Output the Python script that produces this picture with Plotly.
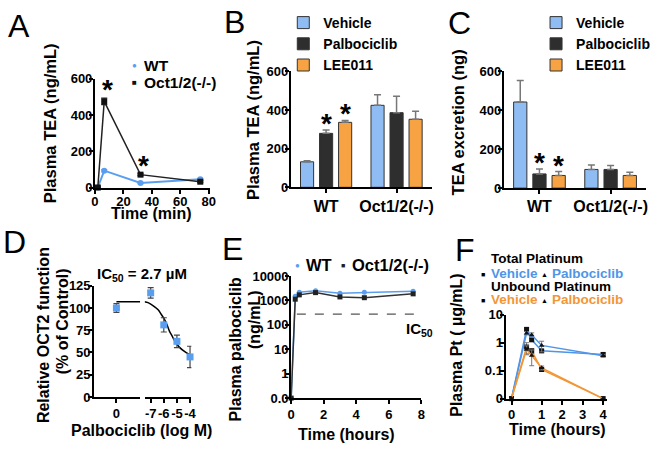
import math
import plotly.graph_objects as go

W, H = 664, 453
FONT = "Liberation Sans, Arial, Helvetica, sans-serif"

BLUE = "#5a9ef0"
BAR_BLUE = "#8fbcf3"
BAR_BLACK = "#2e2e2e"
BAR_ORANGE = "#f7a343"
F_BLUE = "#4f95e8"
F_ORANGE = "#f39636"

# ---------------- data ----------------
# Panel A: plasma TEA vs time
a_time = [2, 6.5, 32, 74]
a_wt = [0, 93, 25, 45]
a_wt_err = [1, 6, 4, 6]
a_ko = [0, 475, 71, 32]
a_ko_err = [1, 18, 5, 5]
a_sig = [False, True, True, False]
a_xticks = [0, 20, 40, 60, 80]
a_yticks = [0, 200, 400, 600]

# Panel B: plasma TEA by genotype / treatment
genotypes = ["WT", "Oct1/2(-/-)"]
b_vehicle = [132, 424]
b_vehicle_err = [5, 55]
b_palbo = [279, 386]
b_palbo_err = [17, 85]
b_lee = [336, 352]
b_lee_err = [10, 42]
b_sig_palbo = [True, False]
b_sig_lee = [True, False]

# Panel C: TEA excretion
c_vehicle = [443, 96]
c_vehicle_err = [111, 23]
c_palbo = [73, 96]
c_palbo_err = [25, 20]
c_lee = [65, 65]
c_lee_err = [20, 16]
c_sig_palbo = [True, False]
c_sig_lee = [True, False]
bar_yticks = [0, 200, 400, 600]

# Panel D: OCT2 inhibition
d_ctrl_x = [0]
d_ctrl_y = [100]
d_ctrl_err = [5]
d_logc = [-7, -6, -5, -4]
d_resp = [117, 81, 62.5, 45]
d_resp_err = [6, 8, 7, 12]
d_fit_ctrl_x = [0, 1.07]
d_fit_ctrl_y = [107, 107]
d_fit_x = [-7.46, -7.2, -6.8, -6.43, -6.2, -5.94, -5.75, -5.57, -5.38, -5.19, -4.82, -4.32, -3.95]
d_fit_y = [107, 106, 102.5, 98, 93, 87, 81, 74, 69, 63.5, 56, 50, 47]
d_yticks = [0, 25, 50, 75, 100, 125]

# Panel E: plasma palbociclib
e_time = [0, 0.25, 0.5, 1.5, 3, 4.5, 7.5]
e_wt = [0.1, 1500, 2200, 2500, 2000, 2150, 2400]
e_ko = [0.1, 1130, 1700, 2100, 1400, 1300, 1870]
e_ic50 = 275
e_ic50_span = [0.35, 7.6]
e_xticks = [0, 2, 4, 6, 8]
e_yticks = [0.1, 1, 10, 100, 1000, 10000]
e_yticktext = ["0.0", "1", "10", "100", "1000", "10000"]

# Panel F: plasma platinum
f_time = [0, 0.5, 0.67, 1, 4]
f_tot_veh = [0.01, 3.0, 1.27, 0.51, 0.38]
f_tot_veh_err = [0, 0.4, 0.15, 0.05, 0.05]
f_tot_pal = [0.01, 2.2, 1.9, 0.8, 0.34]
f_tot_pal_err = [0, 0.3, 0.35, 0.33, 0.04]
f_unb_veh = [0.01, 0.7, 0.51, 0.11, 0.01]
f_unb_veh_err = [0, 0.3, 0.1, 0.015, 0]
f_unb_pal = [0.01, 0.57, 0.35, 0.126, 0.01]
f_unb_pal_err = [0, 0.2, 0.2, 0.02, 0]
f_xticks = [0, 1, 2, 3, 4]
f_yticks = [0.01, 0.1, 1, 10]
f_yticktext = ["0", "0.1", "1", "10"]
F_EARLY = 1.47  # the 0-1 h segment of the time axis is stretched


def f_pos(t):
    return t * F_EARLY if t <= 1 else F_EARLY + (t - 1)


# ---------------- helpers ----------------
def xd(a, b):
    return [a / W, b / W]


def yd(top, bottom):
    return [1 - bottom / H, 1 - top / H]


def font(size, weight="bold", color="black"):
    return dict(family=FONT, size=size, weight=weight, color=color)


AX = dict(showline=True, linecolor="black", linewidth=2, ticks="outside", ticklen=4,
          tickwidth=2, tickcolor="black", showgrid=False, zeroline=False,
          tickfont=font(13), fixedrange=True, tickangle=0)
XA = dict(AX, ticklabelstandoff=-1)
YA = dict(AX, ticklabelstandoff=-6)

annotations = []


def ann(text, x, y, size=16, angle=0, xanchor="center", yanchor="middle", weight="bold", color="black"):
    annotations.append(dict(text=text, x=x / W, y=1 - y / H, xref="paper", yref="paper",
                            showarrow=False, textangle=angle, xanchor=xanchor, yanchor=yanchor,
                            font=font(size, weight, color)))


fig = go.Figure()

# ---------------- Panel A ----------------
fig.add_trace(go.Scatter(x=a_time, y=a_wt, mode="lines+markers", xaxis="x", yaxis="y",
                         line=dict(color=BLUE, width=2), marker=dict(color=BLUE, size=6, symbol="circle"),
                         error_y=dict(type="data", array=a_wt_err, color=BLUE, thickness=1.2, width=3),
                         showlegend=False, cliponaxis=False))
fig.add_trace(go.Scatter(x=a_time, y=a_ko, mode="lines+markers", xaxis="x", yaxis="y",
                         line=dict(color="#222", width=1.5), marker=dict(color="#111", size=6, symbol="square"),
                         error_y=dict(type="data", array=a_ko_err, color="#222", thickness=1.2, width=3),
                         showlegend=False, cliponaxis=False))
for t, v, e, s in zip(a_time, a_ko, a_ko_err, a_sig):
    if s:
        annotations.append(dict(text="*", x=t, y=v + e, xref="x", yref="y", showarrow=False,
                                xshift=3, yshift=-9, yanchor="bottom", font=font(28)))

# ---------------- Panels B and C (bars) ----------------
BARGAP, GROUPGAP = 0.19, 0.31


def add_bars(xa, ya, veh, veh_e, pal, pal_e, lee, lee_e, legend):
    specs = [("Vehicle", veh, veh_e, BAR_BLUE, "#777"),
             ("Palbociclib", pal, pal_e, BAR_BLACK, "#777"),
             ("LEE011", lee, lee_e, BAR_ORANGE, "#777")]
    for name, vals, errs, col, ecol in specs:
        fig.add_trace(go.Bar(x=genotypes, y=vals, name=name, xaxis=xa, yaxis=ya, legend=legend,
                             marker=dict(color=col, line=dict(color="#333", width=1)),
                             error_y=dict(type="data", array=errs, arrayminus=[0] * len(errs),
                                          symmetric=False, color=ecol, thickness=1.5, width=3.5)))


add_bars("x2", "y2", b_vehicle, b_vehicle_err, b_palbo, b_palbo_err, b_lee, b_lee_err, "legend")
add_bars("x3", "y3", c_vehicle, c_vehicle_err, c_palbo, c_palbo_err, c_lee, c_lee_err, "legend2")

B_DOM = (291.7, 435)
C_DOM = (508.3, 653)


def bar_stars(dom, xref, yref, vals, errs, sig, slot_index):
    cat_w = (dom[1] - dom[0]) / len(genotypes)
    slot = cat_w * (1 - BARGAP) / 3
    for g, v, e, s in zip(genotypes, vals, errs, sig):
        if s:
            annotations.append(dict(text="*", x=g, y=v + e, xref=xref, yref=yref, showarrow=False,
                                    xshift=(slot_index - 1) * slot, yshift=-11, yanchor="bottom",
                                    font=font(28)))


bar_stars(B_DOM, "x2", "y2", b_palbo, b_palbo_err, b_sig_palbo, 1)
bar_stars(B_DOM, "x2", "y2", b_lee, b_lee_err, b_sig_lee, 2)
bar_stars(C_DOM, "x3", "y3", c_palbo, c_palbo_err, c_sig_palbo, 1)
bar_stars(C_DOM, "x3", "y3", c_lee, c_lee_err, c_sig_lee, 2)

# ---------------- Panel D ----------------
fig.add_trace(go.Scatter(x=d_fit_ctrl_x, y=d_fit_ctrl_y, mode="lines", xaxis="x4", yaxis="y4",
                         line=dict(color="black", width=1.5), showlegend=False, cliponaxis=False))
fig.add_trace(go.Scatter(x=d_ctrl_x, y=d_ctrl_y, mode="markers", xaxis="x4", yaxis="y4",
                         marker=dict(color=BLUE, size=7, symbol="square"),
                         error_y=dict(type="data", array=d_ctrl_err, color="#444", thickness=1.2, width=3),
                         showlegend=False, cliponaxis=False))
fig.add_trace(go.Scatter(x=d_fit_x, y=d_fit_y, mode="lines", xaxis="x5", yaxis="y4",
                         line=dict(color="black", width=1.5, shape="spline"), showlegend=False,
                         cliponaxis=False))
fig.add_trace(go.Scatter(x=d_logc, y=d_resp, mode="markers", xaxis="x5", yaxis="y4",
                         marker=dict(color=BLUE, size=7, symbol="square"),
                         error_y=dict(type="data", array=d_resp_err, color="#444", thickness=1.2, width=3),
                         showlegend=False, cliponaxis=False))

# ---------------- Panel E ----------------
fig.add_trace(go.Scatter(x=e_ic50_span, y=[e_ic50, e_ic50], mode="lines", xaxis="x6", yaxis="y6",
                         line=dict(color="#555", width=1.3, dash="dash"), showlegend=False))
fig.add_trace(go.Scatter(x=e_time, y=e_wt, mode="lines+markers", xaxis="x6", yaxis="y6",
                         line=dict(color=BLUE, width=1.5), marker=dict(color=BLUE, size=5, symbol="circle"),
                         showlegend=False, cliponaxis=False))
fig.add_trace(go.Scatter(x=e_time, y=e_ko, mode="lines+markers", xaxis="x6", yaxis="y6",
                         line=dict(color="#333", width=1.5), marker=dict(color="#222", size=5, symbol="square"),
                         showlegend=False, cliponaxis=False))

# ---------------- Panel F ----------------
f_x = [f_pos(t) for t in f_time]
for vals, errs, col, sym in [(f_tot_veh, f_tot_veh_err, F_BLUE, "square"),
                             (f_tot_pal, f_tot_pal_err, F_BLUE, "triangle-up"),
                             (f_unb_veh, f_unb_veh_err, F_ORANGE, "square"),
                             (f_unb_pal, f_unb_pal_err, F_ORANGE, "triangle-up")]:
    fig.add_trace(go.Scatter(x=f_x, y=vals, mode="lines+markers", xaxis="x7", yaxis="y7",
                             line=dict(color=col, width=1.5), marker=dict(color="#111", size=5, symbol=sym),
                             error_y=dict(type="data", array=errs, color="#777", thickness=1, width=2.5),
                             showlegend=False, cliponaxis=False))

# ---------------- axes ----------------
layout_axes = dict(
    xaxis=dict(XA, domain=xd(92.5, 209), range=[0, 80.5], anchor="y", tickvals=a_xticks,
               ticklabelstandoff=-3),
    yaxis=dict(YA, domain=yd(74.2, 186.7), range=[0, 600], anchor="x", tickvals=a_yticks),
    xaxis2=dict(XA, domain=xd(*B_DOM), anchor="y2", type="category", tickfont=font(16)),
    yaxis2=dict(YA, domain=yd(66.5, 186.5), range=[0, 600], anchor="x2", tickvals=bar_yticks),
    xaxis3=dict(XA, domain=xd(*C_DOM), anchor="y3", type="category", tickfont=font(16)),
    yaxis3=dict(YA, domain=yd(66.7, 187.3), range=[0, 600], anchor="x3", tickvals=bar_yticks),
    xaxis4=dict(XA, domain=xd(91.7, 138.5), range=[-1, 1.07], anchor="y4", tickvals=[0], ticktext=["0"]),
    xaxis5=dict(XA, domain=xd(143, 190.5), range=[-7.46, -3.9], anchor="y4", tickvals=d_logc,
                ticktext=[str(v) for v in d_logc]),
    yaxis4=dict(YA, domain=yd(288.3, 403.3), range=[0, 125], anchor="x4", tickvals=d_yticks,
                ticklabelstandoff=-5),
    xaxis6=dict(XA, domain=xd(292, 424.3), range=[0, 8], anchor="y6", tickvals=e_xticks),
    yaxis6=dict(YA, domain=yd(278.3, 404.5), type="log", range=[-1, 4], anchor="x6",
                tickvals=e_yticks, ticktext=e_yticktext),
    xaxis7=dict(XA, domain=xd(510, 613), range=[-0.29, 4.65], anchor="y7",
                tickvals=[f_pos(t) for t in f_xticks], ticktext=[str(t) for t in f_xticks]),
    yaxis7=dict(YA, domain=yd(318.3, 405), type="log", range=[-2, 1], anchor="x7",
                tickvals=f_yticks, ticktext=f_yticktext),
)

# ---------------- text ----------------
# panel letters
for letter, x, y in [("A", 15, 20), ("B", 234, 16), ("C", 463, 17), ("D", 11, 243), ("E", 232, 250), ("F", 469, 251)]:
    ann(letter, x, y, size=32, weight="normal")

# axis titles
ann("Plasma TEA (ng/mL)", 47, 120, size=16.5, angle=-90)
ann("Time (min)", 150, 214, size=16)
ann("Plasma TEA (ng/mL)", 253, 117, size=16.5, angle=-90)
ann("TEA excretion (ng)", 462, 119, size=16.5, angle=-90)
ann("Relative OCT2 function", 40, 339, size=16, angle=-90)
ann("(% of Control)", 59, 325, size=16, angle=-90)
ann("IC<sub>50</sub> = 2.7 µM", 140, 277, size=15)
ann("Palbociclib (log M)", 140, 438, size=16)
ann("Plasma palbociclib", 235, 354, size=16, angle=-90)
ann("(ng/mL)", 255, 323, size=16, angle=-90)
ann("Time (hours)", 348, 442, size=16)
ann("Plasma Pt ( µg/mL)", 460, 350, size=16, angle=-90)
ann("Time (hours)", 563, 437, size=16)

# IC50 label in E, hanging below the right end of the dashed line
annotations.append(dict(text="IC<sub>50</sub>", x=1.105, y=math.log10(e_ic50), xref="x6 domain", yref="y6",
                        showarrow=False, xanchor="right", yanchor="top", yshift=-4, font=font(15)))

# legend A
ann("●", 133, 60, size=8, color=BLUE)
ann("WT", 140, 60, size=15.5, xanchor="left")
ann("■", 133, 78, size=8, color="#111")
ann("Oct1/2(-/-)", 140, 78, size=15.5, xanchor="left")

# legend E
ann("●", 298, 267, size=8, color=BLUE)
ann("WT", 305, 267, size=16.5, xanchor="left")
ann("■", 345, 267, size=7, color="#222")
ann("Oct1/2(-/-)", 352, 267, size=16.5, xanchor="left")

# legend F
ann("Total Platinum", 493, 260, size=13.5, xanchor="left")
ann("■", 487, 277, size=7)
ann("Vehicle", 493, 276, size=13.5, xanchor="left", color=F_BLUE)
ann("▲", 550, 277, size=7)
ann("Palbociclib", 555, 276, size=13.5, xanchor="left", color=F_BLUE)
ann("Unbound Platinum", 493, 289, size=13.5, xanchor="left")
ann("■", 487, 304, size=7)
ann("Vehicle", 493, 303, size=13.5, xanchor="left", color=F_ORANGE)
ann("▲", 550, 304, size=7)
ann("Palbociclib", 555, 303, size=13.5, xanchor="left", color=F_ORANGE)

LEG = dict(xanchor="left", yanchor="top", font=font(14), bgcolor="rgba(0,0,0,0)",
           tracegroupgap=0, itemclick=False, itemdoubleclick=False)

fig.update_layout(
    width=W, height=H, margin=dict(l=0, r=0, t=0, b=0),
    paper_bgcolor="white", plot_bgcolor="white",
    font=font(13), barmode="group", bargap=BARGAP, bargroupgap=GROUPGAP,
    showlegend=True,
    legend=dict(LEG, x=284 / W, y=1.0),
    legend2=dict(LEG, x=541 / W, y=1.0),
    annotations=annotations,
    **layout_axes,
)

fig.write_html("out.html", config={"staticPlot": True},
               post_script="document.body.style.margin='0';document.body.style.overflow='hidden';")
